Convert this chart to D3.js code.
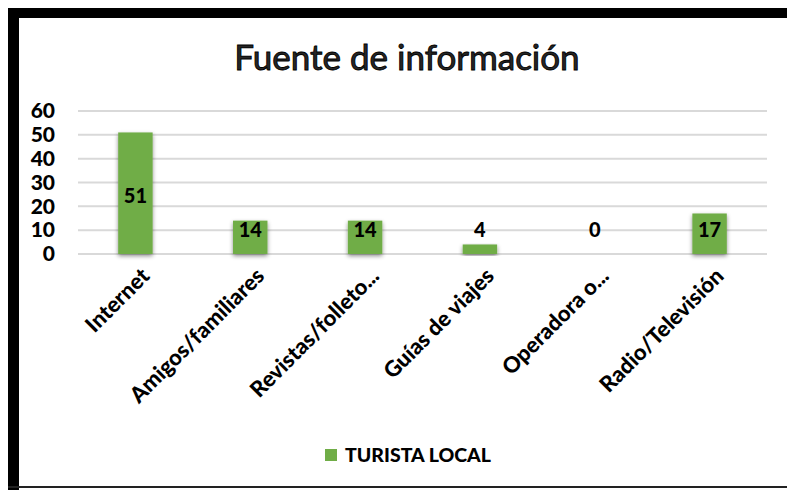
<!DOCTYPE html>
<html>
<head>
<meta charset="utf-8">
<script src="https://d3js.org/d3.v7.min.js"></script>
<style>
  body { margin: 0; background: #fff; }
  text { font-family: Lato, "Open Sans", sans-serif; }
</style>
</head>
<body>
<div id="my_dataviz"></div>
<script>

// data
var categories = ["Internet", "Amigos/familiares", "Revistas/folleto...", "Guías de viajes", "Operadora o...", "Radio/Televisión"];
var values = [51, 14, 14, 4, 0, 17];
var yTicks = [0, 10, 20, 30, 40, 50, 60];
var seriesName = "TURISTA LOCAL";
var title = "Fuente de información";

var W = 787, H = 490;
var margin = {top: 111, right: 20, bottom: 236, left: 78},
    width = 767 - margin.left,
    height = 254 - margin.top;

var root = d3.select("#my_dataviz")
  .append("svg")
    .attr("width", W)
    .attr("height", H);

// frame (thick black top/left, thin bottom)
root.append("rect").attr("x", 8).attr("y", 8).attr("width", W - 8).attr("height", 10).attr("fill", "#000");
root.append("rect").attr("x", 8).attr("y", 8).attr("width", 11).attr("height", H - 8).attr("fill", "#000");
root.append("rect").attr("x", 8).attr("y", 486).attr("width", W - 8).attr("height", 2).attr("fill", "#222");

// soft shadow under bars
var defs = root.append("defs");
var f = defs.append("filter").attr("id", "shadow").attr("x", "-30%").attr("y", "-10%").attr("width", "160%").attr("height", "130%");
f.append("feDropShadow").attr("dx", 0).attr("dy", 2).attr("stdDeviation", 2).attr("flood-color", "#000").attr("flood-opacity", 0.45);

// title
root.append("text")
  .attr("x", 407)
  .attr("y", 70)
  .attr("text-anchor", "middle")
  .style("font-size", "35px")
  .style("fill", "#262626")
  .style("stroke", "#000")
  .style("stroke-width", 0.9)
  .text(title);

var svg = root.append("g")
  .attr("transform", "translate(" + margin.left + "," + margin.top + ")");

var x = d3.scaleBand()
  .domain(categories)
  .range([0, width])
  .paddingInner(0.7)
  .paddingOuter(0.35);

var y = d3.scaleLinear()
  .domain([0, 60])
  .range([height, 0]);

// gridlines
svg.append("g")
  .selectAll("line")
  .data(yTicks)
  .enter()
  .append("line")
    .attr("x1", 0)
    .attr("x2", width)
    .attr("y1", function(d) { return y(d); })
    .attr("y2", function(d) { return y(d); })
    .attr("stroke", "#d9d9d9")
    .attr("stroke-width", 2);

// Y axis labels
var yAxis = svg.append("g")
  .call(d3.axisLeft(y).tickValues(yTicks).tickSize(0).tickPadding(23));
yAxis.select(".domain").remove();
yAxis.selectAll("text")
  .style("font-size", "21px")
  .style("font-weight", "900")
  .style("fill", "#000")
  .style("font-family", "Lato, sans-serif");

// bars
svg.append("g")
  .selectAll("rect")
  .data(values)
  .enter()
  .append("rect")
    .attr("x", function(d, i) { return x(categories[i]); })
    .attr("y", function(d) { return y(d); })
    .attr("width", x.bandwidth())
    .attr("height", function(d) { return height - y(d); })
    .attr("fill", "#70ad47")
    .attr("filter", "url(#shadow)");

// value labels
svg.append("g")
  .selectAll("text")
  .data(values)
  .enter()
  .append("text")
    .attr("x", function(d, i) { return x(categories[i]) + x.bandwidth() / 2; })
    .attr("y", function(d) { return Math.min(y(d / 2) + 3, height - 24); })
    .attr("dy", "0.35em")
    .attr("text-anchor", "middle")
    .style("font-size", "20px")
    .style("font-weight", "900")
    .style("fill", "#000")
    .text(function(d) { return d; });

// X axis labels
var xAxis = svg.append("g")
  .attr("transform", "translate(0," + height + ")")
  .call(d3.axisBottom(x).tickSize(0).tickPadding(0));
xAxis.select(".domain").remove();
xAxis.selectAll("text")
  .attr("text-anchor", "end")
  .attr("transform", "translate(10,18) rotate(-45)")
  .attr("dy", "0.35em")
  .style("font-size", "22px")
  .style("font-weight", "900")
  .style("fill", "#000")
  .style("font-family", "Lato, sans-serif");

// legend
var legend = root.append("g").attr("transform", "translate(325,449)");
legend.append("rect")
  .attr("width", 12)
  .attr("height", 12)
  .attr("fill", "#70ad47");
legend.append("text")
  .attr("x", 20)
  .attr("y", 6)
  .attr("dy", "0.35em")
  .style("font-size", "19.5px")
  .style("font-weight", "900")
  .style("fill", "#000")
  .text(seriesName);

</script>
</body>
</html>
